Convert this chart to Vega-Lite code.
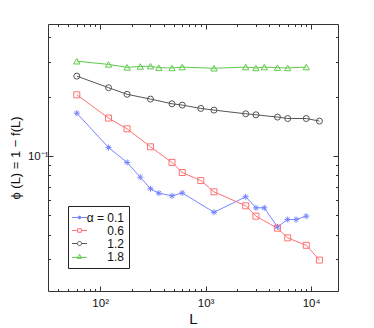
{
  "$schema": "https://vega.github.io/schema/vega-lite/v6.json",
  "autosize": {"type": "none"},
  "width": 290,
  "height": 267,
  "padding": {"left": 48, "top": 24, "right": 36, "bottom": 37},
  "background": "white",
  "config": {
    "view": {"stroke": "#333", "strokeWidth": 1},
    "font": "Liberation Sans",
    "axis": {"domain": false, "grid": false, "tickColor": "#333", "labelColor": "#111", "titleColor": "#111", "titleFontWeight": "normal", "labelFont": "Liberation Sans", "titleFont": "Liberation Sans"},
    "legend": {"orient": "none", "legendX": 20, "legendY": 182, "title": null,
      "strokeColor": "#222", "fillColor": "white", "padding": 5, "symbolSize": 144, "symbolStrokeWidth": 1,
      "labelFontSize": 12, "labelAlign": "right", "labelOffset": 38, "rowPadding": 0, "labelColor": "#111", "labelFont": "Liberation Sans"}
  },
  "data": {"values": [
    {"L": 60, "phi": 0.1652, "alpha": "0.1"},
    {"L": 120, "phi": 0.1106, "alpha": "0.1"},
    {"L": 180, "phi": 0.0929, "alpha": "0.1"},
    {"L": 240, "phi": 0.0782, "alpha": "0.1"},
    {"L": 300, "phi": 0.0683, "alpha": "0.1"},
    {"L": 360, "phi": 0.0649, "alpha": "0.1"},
    {"L": 480, "phi": 0.0629, "alpha": "0.1"},
    {"L": 600, "phi": 0.0651, "alpha": "0.1"},
    {"L": 1200, "phi": 0.0519, "alpha": "0.1"},
    {"L": 2400, "phi": 0.0622, "alpha": "0.1"},
    {"L": 3000, "phi": 0.0547, "alpha": "0.1"},
    {"L": 3600, "phi": 0.0547, "alpha": "0.1"},
    {"L": 4800, "phi": 0.0438, "alpha": "0.1"},
    {"L": 6000, "phi": 0.0477, "alpha": "0.1"},
    {"L": 7200, "phi": 0.0477, "alpha": "0.1"},
    {"L": 9000, "phi": 0.0496, "alpha": "0.1"},
    {"L": 60, "phi": 0.2047, "alpha": "0.6"},
    {"L": 120, "phi": 0.156, "alpha": "0.6"},
    {"L": 180, "phi": 0.1376, "alpha": "0.6"},
    {"L": 300, "phi": 0.1115, "alpha": "0.6"},
    {"L": 480, "phi": 0.0929, "alpha": "0.6"},
    {"L": 600, "phi": 0.0826, "alpha": "0.6"},
    {"L": 900, "phi": 0.0752, "alpha": "0.6"},
    {"L": 1200, "phi": 0.0659, "alpha": "0.6"},
    {"L": 2400, "phi": 0.056, "alpha": "0.6"},
    {"L": 3000, "phi": 0.0496, "alpha": "0.6"},
    {"L": 4800, "phi": 0.0431, "alpha": "0.6"},
    {"L": 6000, "phi": 0.0385, "alpha": "0.6"},
    {"L": 9000, "phi": 0.0353, "alpha": "0.6"},
    {"L": 12000, "phi": 0.0297, "alpha": "0.6"},
    {"L": 60, "phi": 0.2546, "alpha": "1.2"},
    {"L": 120, "phi": 0.2224, "alpha": "1.2"},
    {"L": 180, "phi": 0.2059, "alpha": "1.2"},
    {"L": 300, "phi": 0.1947, "alpha": "1.2"},
    {"L": 480, "phi": 0.1843, "alpha": "1.2"},
    {"L": 600, "phi": 0.1815, "alpha": "1.2"},
    {"L": 900, "phi": 0.1746, "alpha": "1.2"},
    {"L": 1200, "phi": 0.1712, "alpha": "1.2"},
    {"L": 2400, "phi": 0.164, "alpha": "1.2"},
    {"L": 3000, "phi": 0.1621, "alpha": "1.2"},
    {"L": 4800, "phi": 0.1578, "alpha": "1.2"},
    {"L": 6000, "phi": 0.1552, "alpha": "1.2"},
    {"L": 9000, "phi": 0.1552, "alpha": "1.2"},
    {"L": 12000, "phi": 0.1506, "alpha": "1.2"},
    {"L": 60, "phi": 0.303, "alpha": "1.8"},
    {"L": 120, "phi": 0.292, "alpha": "1.8"},
    {"L": 180, "phi": 0.282, "alpha": "1.8"},
    {"L": 240, "phi": 0.285, "alpha": "1.8"},
    {"L": 300, "phi": 0.286, "alpha": "1.8"},
    {"L": 360, "phi": 0.281, "alpha": "1.8"},
    {"L": 480, "phi": 0.28, "alpha": "1.8"},
    {"L": 600, "phi": 0.283, "alpha": "1.8"},
    {"L": 1200, "phi": 0.279, "alpha": "1.8"},
    {"L": 2400, "phi": 0.283, "alpha": "1.8"},
    {"L": 3000, "phi": 0.28, "alpha": "1.8"},
    {"L": 3600, "phi": 0.283, "alpha": "1.8"},
    {"L": 4800, "phi": 0.281, "alpha": "1.8"},
    {"L": 6000, "phi": 0.28, "alpha": "1.8"},
    {"L": 9000, "phi": 0.283, "alpha": "1.8"}
  ]},
  "resolve": {"axis": {"x": "independent", "y": "independent"}},
  "layer": [
    {
      "mark": {"type": "line", "strokeWidth": 1},
      "encoding": {
        "x": {"field": "L", "type": "quantitative",
          "scale": {"type": "log", "domain": [32, 18000], "nice": false},
          "axis": {"orient": "bottom", "values": [40,50,60,70,80,90,100,200,300,400,500,600,700,800,900,1000,2000,3000,4000,5000,6000,7000,8000,9000,10000],
            "labelExpr": "datum.value==100?'10²':datum.value==1000?'10³':datum.value==10000?'10⁴':''",
            "tickSize": {"condition": {"test": "datum.value==100||datum.value==1000||datum.value==10000", "value": -5}, "value": -2.5},
            "labelFontSize": 11.5, "labelPadding": 11, "labelFlush": false, "labelOverlap": false,
            "title": "L", "titleFontSize": 15, "titlePadding": 0}},
        "y": {"field": "phi", "type": "quantitative",
          "scale": {"type": "log", "domain": [0.0207, 0.468], "nice": false},
          "axis": {"orient": "left", "values": [0.03,0.04,0.05,0.06,0.07,0.08,0.09,0.1,0.2,0.3,0.4],
            "labelExpr": "datum.value==0.1?'10⁻¹':''",
            "tickSize": {"condition": {"test": "datum.value==0.1", "value": -5}, "value": -2.5},
            "labelFontSize": 11.5, "labelPadding": 5, "labelFlush": false, "labelOverlap": false,
            "title": "ϕ (L) = 1 − f(L)", "titleFontSize": 13, "titlePadding": 5}},
        "color": {"field": "alpha", "type": "nominal",
          "scale": {"domain": ["0.1", "0.6", "1.2", "1.8"], "range": ["#7584ff", "#ff7272", "#555555", "#5fc94c"]},
          "legend": {
            "labelExpr": "datum.value=='0.1'?'α = 0.1':datum.label",
            "symbolType": {"expr": "datum.value=='0.1'?'M-1.25,0H1.25M-0.3,0H0.3M0,-0.3V0.3M-0.22,-0.22L0.22,0.22M-0.22,0.22L0.22,-0.22':datum.value=='0.6'?'M-1.25,0H-0.3M0.3,0H1.25M-0.3,-0.3H0.3V0.3H-0.3Z':datum.value=='1.2'?'M-1.25,0H-0.35M0.35,0H1.25M-0.35,0A0.35,0.35 0 1,0 0.35,0A0.35,0.35 0 1,0 -0.35,0':'M-1.25,0.15H1.25M0,-0.35L0.38,0.3H-0.38Z'"}}},
        "detail": {"field": "alpha"}
      }
    },
    {
      "transform": [{"filter": "datum.alpha=='0.1'"}],
      "mark": {"type": "point", "filled": false, "strokeWidth": 1, "size": 36, "opacity": 1, "shape": "M-1,0H1M0,-1V1M-0.7,-0.7L0.7,0.7M-0.7,0.7L0.7,-0.7"},
      "encoding": {
        "x": {"field": "L", "type": "quantitative", "scale": {"type": "log", "domain": [32, 18000], "nice": false},
          "axis": {"orient": "top", "values": [40,50,60,70,80,90,100,200,300,400,500,600,700,800,900,1000,2000,3000,4000,5000,6000,7000,8000,9000,10000],
            "labels": false, "title": null,
            "tickSize": {"condition": {"test": "datum.value==100||datum.value==1000||datum.value==10000", "value": -5}, "value": -2.5}}},
        "y": {"field": "phi", "type": "quantitative", "scale": {"type": "log", "domain": [0.0207, 0.468], "nice": false},
          "axis": {"orient": "right", "values": [0.03,0.04,0.05,0.06,0.07,0.08,0.09,0.1,0.2,0.3,0.4],
            "labels": false, "title": null,
            "tickSize": {"condition": {"test": "datum.value==0.1", "value": -5}, "value": -2.5}}},
        "color": {"field": "alpha", "type": "nominal", "legend": null}
      }
    },
    {
      "transform": [{"filter": "datum.alpha=='0.6'"}],
      "mark": {"type": "point", "filled": false, "strokeWidth": 1, "size": 40, "opacity": 1, "shape": "M-0.95,-0.95H0.95V0.95H-0.95Z"},
      "encoding": {
        "x": {"field": "L", "type": "quantitative", "axis": null},
        "y": {"field": "phi", "type": "quantitative", "axis": null},
        "color": {"field": "alpha", "type": "nominal", "legend": null}
      }
    },
    {
      "transform": [{"filter": "datum.alpha=='1.2'"}],
      "mark": {"type": "point", "filled": false, "strokeWidth": 1, "size": 36, "opacity": 1, "shape": "circle"},
      "encoding": {
        "x": {"field": "L", "type": "quantitative", "axis": null},
        "y": {"field": "phi", "type": "quantitative", "axis": null},
        "color": {"field": "alpha", "type": "nominal", "legend": null}
      }
    },
    {
      "transform": [{"filter": "datum.alpha=='1.8'"}],
      "mark": {"type": "point", "filled": false, "strokeWidth": 1, "size": 40, "opacity": 1, "shape": "triangle-up"},
      "encoding": {
        "x": {"field": "L", "type": "quantitative", "axis": null},
        "y": {"field": "phi", "type": "quantitative", "axis": null},
        "color": {"field": "alpha", "type": "nominal", "legend": null}
      }
    }
  ]
}
